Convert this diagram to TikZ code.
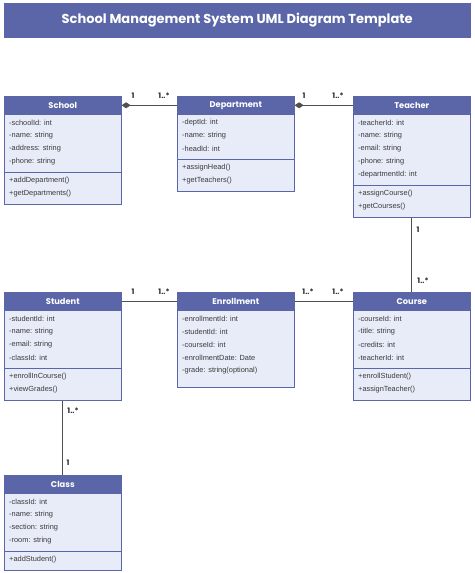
\documentclass[tikz,border=0pt]{standalone}
\usepackage{fontspec}
\setmainfont{Liberation Sans}
\newfontfamily\popfont{Poppins}
\usetikzlibrary{arrows.meta}
\definecolor{hdrfill}{HTML}{5A66A8}
\definecolor{bodyfill}{HTML}{E8ECF8}
\definecolor{bord}{HTML}{5A66A8}
\definecolor{txtcol}{HTML}{3A3A3A}
\definecolor{conncol}{HTML}{505050}
\tikzset{
  hdr/.style={draw=bord, fill=hdrfill, text=white, font=\popfont\bfseries\fontsize{8.3}{9}\selectfont,
    minimum width=117pt, minimum height=18pt, inner sep=0pt, line width=0.6pt},
  body/.style={draw=bord, fill=bodyfill, minimum width=117pt, inner sep=0pt, line width=0.6pt},
  sepline/.style={draw=bord, line width=0.6pt},
  txt/.style={anchor=west, inner sep=0pt, text=txtcol, font=\fontsize{7.4}{8}\selectfont},
  mult/.style={inner sep=0pt, text=black!85, font=\popfont\bfseries\fontsize{7.5}{8}\selectfont},
  conn/.style={draw=conncol, line width=0.8pt},
  comp/.style={conn, {Diamond[length=9pt,width=6pt]}-},
  titlebox/.style={draw=bord, fill=hdrfill, text=white, font=\popfont\bfseries\fontsize{13}{15}\selectfont,
    minimum width=466pt, minimum height=34pt, inner sep=0pt}
}
% #1 id, #2 x, #3 y, #4 title, #5 nattrs, #6 attrs, #7 nmethods, #8 methods
\newcommand{\umlclass}[8]{%
  \pgfmathsetmacro\ya{#3+18}%
  \pgfmathsetmacro\ys{\ya+13*#5+6}%
  \pgfmathsetmacro\yb{#7==0 ? \ys+6 : \ys+13*#7+6}%
  \pgfmathsetmacro\bh{\yb-\ya}%
  \node[body, anchor=north west, minimum height=\bh pt] (#1-body) at (#2,\ya) {};
  \node[hdr, anchor=north west] (#1) at (#2,#3) {#4};
  \ifnum#7>0 \draw[sepline] (#2,\ys) -- ++(117,0);\fi
  \foreach \t [count=\i] in {#6} {\node[txt] at (#2+5,\ya+13*\i-4) {\t};}
  \ifnum#7>0 \foreach \t [count=\i] in {#8} {\node[txt] at (#2+5,\ys+13*\i-4) {\t};}\fi
}
\begin{document}
\begin{tikzpicture}[x=1pt,y=-1pt]
\useasboundingbox (0,0) rectangle (474,573);
\node[titlebox, anchor=north west] (title) at (4,3) {School Management System UML Diagram Template};

\umlclass{school}{4}{96}{School}{4}{-schoolId: int,-name: string,-address: string,-phone: string}{2}{+addDepartment(),+getDepartments()}
\umlclass{dept}{177}{96}{Department}{3}{-deptId: int,-name: string,-headId: int}{2}{+assignHead(),+getTeachers()}
\umlclass{teacher}{353}{96}{Teacher}{5}{-teacherId: int,-name: string,-email: string,-phone: string,-departmentId: int}{2}{+assignCourse(),+getCourses()}
\umlclass{student}{4}{292}{Student}{4}{-studentId: int,-name: string,-email: string,-classId: int}{2}{+enrollInCourse(),+viewGrades()}
\umlclass{enroll}{177}{292}{Enrollment}{5}{-enrollmentId: int,-studentId: int,-courseId: int,-enrollmentDate: Date,-grade: string(optional)}{0}{}
\umlclass{course}{353}{292}{Course}{4}{-courseId: int,-title: string,-credits: int,-teacherId: int}{2}{+enrollStudent(),+assignTeacher()}
\umlclass{class}{4}{475}{Class}{4}{-classId: int,-name: string,-section: string,-room: string}{1}{+addStudent()}

% connectors
\draw[comp] (school.east) -- (dept.west);
\draw[comp] (dept.east) -- (teacher.west);
\draw[conn] (teacher-body.south) -- (course.north);
\draw[conn] (student.east) -- (enroll.west);
\draw[conn] (enroll.east) -- (course.west);
\draw[conn] (student-body.south) -- (class.north);

% multiplicities
\node[mult] (m1) at (133,96) {1};
\node[mult] (m2) at (164,96) {1..*};
\node[mult] (m3) at (304,96) {1};
\node[mult] (m4) at (338,96) {1..*};
\node[mult] (m5) at (418,230) {1};
\node[mult] (m6) at (423,281) {1..*};
\node[mult] (m7) at (133,292) {1};
\node[mult] (m8) at (164,292) {1..*};
\node[mult] (m9) at (308,292) {1..*};
\node[mult] (m10) at (338,292) {1..*};
\node[mult] (m11) at (73,411) {1..*};
\node[mult] (m12) at (68,463) {1};
\end{tikzpicture}
\end{document}
